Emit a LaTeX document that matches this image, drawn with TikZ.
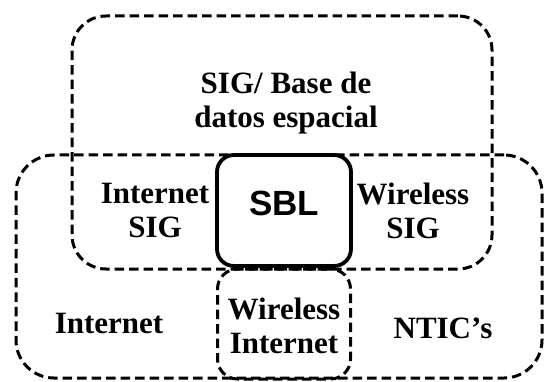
\documentclass[tikz,border=0pt]{standalone}
\usepackage{fontspec}
\setmainfont{Liberation Serif}
\newfontfamily\sblfont{Liberation Sans}
\usetikzlibrary{positioning}
\tikzstyle{zone} = [rectangle, draw=black, line width=3pt, dash pattern=on 9.5pt off 5pt, rounded corners=34pt, inner sep=0pt, outer sep=0pt]
\tikzstyle{core} = [rectangle, draw=black, line width=3.8pt, rounded corners=17pt, inner sep=0pt, outer sep=0pt]
\tikzstyle{zonetext} = [align=center, inner sep=0pt, font=\fontsize{31}{34}\selectfont\bfseries]

\begin{document}
\begin{tikzpicture}[x=1pt, y=1pt]
  \useasboundingbox[fill=white] (0,0) rectangle (544,381);
  % the three areas and their overlaps
  \node[zone, minimum width=420pt, minimum height=253pt] (sig) at (282,238.5) {};
  \node[zone, rounded corners=38pt, minimum width=526pt, minimum height=223pt] (ntic) at (279,114.5) {};
  \node[core, minimum width=134pt, minimum height=111pt] (sbl) at (284,170.5) {};
  \node[zone, rounded corners=20pt, minimum width=133pt, minimum height=110pt, below=3pt of sbl] (wire) {};

  \node[zonetext] (sigtext) at (286,278) {SIG/ Base de\\datos espacial};
  \node[zonetext] (intsig) at (155,170) {Internet\\SIG};
  \node[zonetext] (wirsig) at (413,170) {Wireless\\SIG};
  \node[inner sep=0pt, anchor=base, font=\fontsize{35}{40}\selectfont\sblfont\bfseries] (sbltext) at (284,166) {SBL};
  \node[zonetext, anchor=base] (inttext) at (109,48) {Internet};
  \node[zonetext] (wirint) at (284,55.5) {Wireless\\Internet};
  \node[zonetext, anchor=base] (ntictext) at (443,43) {NTIC's};
\end{tikzpicture}
\end{document}
